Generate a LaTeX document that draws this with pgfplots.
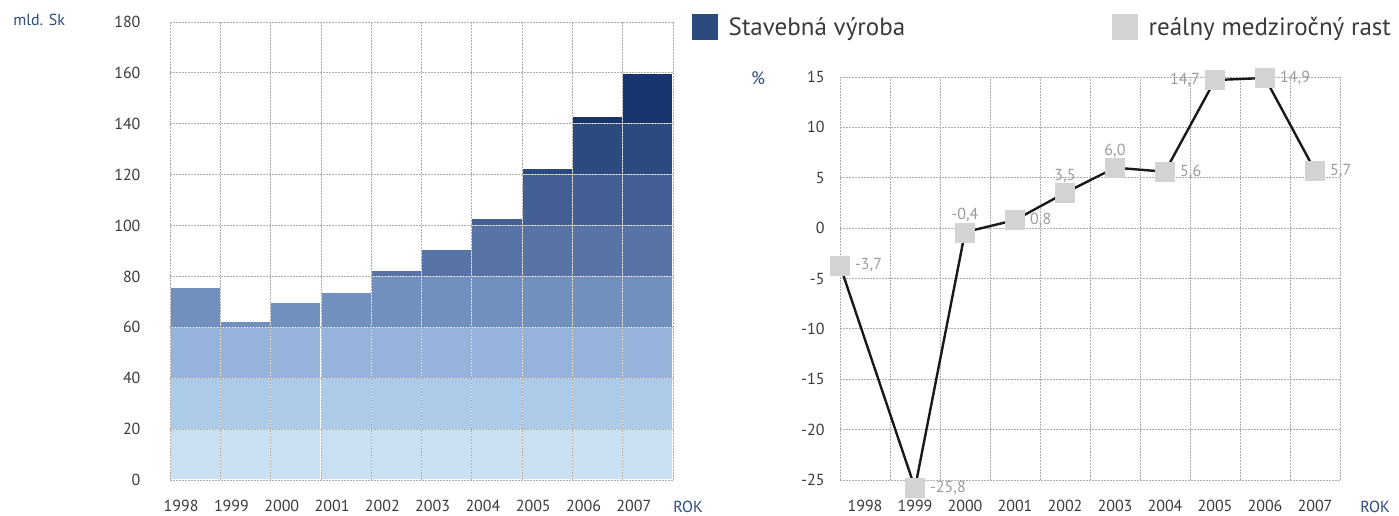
\documentclass[border=0pt]{standalone}
\usepackage{fontspec}
\setmainfont{PT Sans}
\usepackage{pgfplots}
\usepackage{pgfplotstable}
\pgfplotsset{compat=1.18}

\definecolor{bandA}{HTML}{C9DFF2}
\definecolor{bandB}{HTML}{ABCBE9}
\definecolor{bandC}{HTML}{95B3DB}
\definecolor{bandD}{HTML}{7290BE}
\definecolor{bandE}{HTML}{5873A5}
\definecolor{bandF}{HTML}{435F96}
\definecolor{bandG}{HTML}{2B4A80}
\definecolor{bandH}{HTML}{17346D}
\definecolor{navy}{HTML}{2B4A80}
\definecolor{tickgray}{HTML}{3A3A3A}
\definecolor{gridgray}{HTML}{AEAEAE}
\definecolor{markgray}{HTML}{D2D3D5}
\definecolor{labgray}{HTML}{9B9B9B}

% stavebna vyroba (mld. Sk), split into 20-unit bands
\pgfplotstableread{
x  b1 b2 b3 b4   b5   b6 b7  b8
0  20 20 20 15.8 0    0  0   0
1  20 20 20 2.5  0    0  0   0
2  20 20 20 9.7  0    0  0   0
3  20 20 20 13.6 0    0  0   0
4  20 20 20 20   2.5  0  0   0
5  20 20 20 20   10.8 0  0   0
6  20 20 20 20   20   2.9 0  0
7  20 20 20 20   20   20 2.6 0
8  20 20 20 20   20   20 20  2.8
9  20 20 20 20   20   20 20  19.9
}\bands

% realny medzirocny rast (%)
\pgfplotstableread{
x    y     lab
-0.5 -3.7  -3,7
1    -25.8 -25,8
2    -0.4  -0,4
3    0.8   0,8
4    3.5   3,5
5    6.0   6,0
6    5.6   5,6
7    14.7  14,7
8    14.9  14,9
9    5.7   5,7
}\growth

\tikzset{sidelabel/.style={font=\fontsize{16}{19}\selectfont, text=navy, inner sep=1pt}}

\pgfplotsset{
  chartbase/.style={
    scale only axis, anchor=south west, clip=false,
    xmin=-0.5, xmax=9.5,
    axis line style={draw=none},
    major tick length=0pt, minor tick length=0pt,
    xtick={0,...,9},
    xticklabels={1998,1999,2000,2001,2002,2003,2004,2005,2006,2007},
    minor xtick={-0.5,0.5,...,9.5},
    xminorgrids, ymajorgrids,
    grid style={dash pattern=on 1.6pt off 1.4pt, gridgray, line width=0.8pt},
    minor grid style={dash pattern=on 1.6pt off 1.4pt, gridgray, line width=0.8pt},
    tick label style={font=\fontsize{16}{19}\selectfont, text=tickgray},
    /pgf/number format/assume math mode=true,
    xticklabel style={inner sep=1pt, yshift=-19pt},
    legend style={draw=none, fill=none, inner sep=0pt, column sep=9pt,
      font=\fontsize{25}{29}\selectfont, text=tickgray},
  },
  vallabel/.style={draw=none, mark=none, forget plot,
    point meta=explicit symbolic, nodes near coords,
    every node near coord/.append style={anchor=#1, inner xsep=15pt, inner ysep=10pt,
      font=\fontsize{16}{19}\selectfont, text=labgray}},
}

\begin{document}
\begin{tikzpicture}
\useasboundingbox (0,0) rectangle (1399pt,515pt);

\begin{axis}[chartbase,
  at={(170pt,35pt)}, width=503pt, height=458pt,
  ymin=0, ymax=180, ytick={0,20,...,180},
  ybar stacked, bar width=1,
  axis on top,
  xticklabel style={xshift=-14pt},
  yticklabel style={xshift=-26pt},
  legend style={at={(1.038,0.989)}, anchor=west},
]
\addlegendimage{legend image code/.code={\fill[navy] (0pt,-12.5pt) rectangle (25pt,12.5pt);}}
\addlegendentry{Stavebná výroba}
\addplot[forget plot, fill=bandA, draw=white, line width=1.2pt] table[x=x, y=b1] {\bands};
\addplot[forget plot, fill=bandB, draw=white, line width=1.2pt] table[x=x, y=b2] {\bands};
\addplot[forget plot, fill=bandC, draw=white, line width=1.2pt] table[x=x, y=b3] {\bands};
\addplot[forget plot, fill=bandD, draw=white, line width=1.2pt] table[x=x, y=b4] {\bands};
\addplot[forget plot, fill=bandE, draw=white, line width=1.2pt] table[x=x, y=b5] {\bands};
\addplot[forget plot, fill=bandF, draw=white, line width=1.2pt] table[x=x, y=b6] {\bands};
\addplot[forget plot, fill=bandG, draw=white, line width=1.2pt] table[x=x, y=b7] {\bands};
\addplot[forget plot, fill=bandH, draw=white, line width=1.2pt] table[x=x, y=b8] {\bands};
\node[sidelabel] at (axis description cs:-0.260,1.004) {mld. Sk};
\node[sidelabel] at (axis description cs:1.030,-0.059) {ROK};
\end{axis}

\begin{axis}[chartbase,
  at={(840pt,35pt)}, width=500pt, height=403pt,
  ymin=-25, ymax=15, ytick={-25,-20,...,15},
  yticklabel style={xshift=-12pt},
  legend style={at={(0.544,1.124)}, anchor=west},
]
\addlegendimage{legend image code/.code={\fill[markgray] (0pt,-12.5pt) rectangle (25pt,12.5pt);}}
\addlegendentry{reálny medziročný rast}
\addplot[forget plot, color=black!90, line width=2.4pt,
  mark=square*, mark size=9.5pt,
  mark options={fill=markgray, draw=markgray, line width=0.2pt},
] table[x=x, y=y] {\growth};
% value labels: right of the point
\addplot[vallabel=west,
  skip coords between index={2}{3}, skip coords between index={4}{6},
  skip coords between index={7}{8}] table[x=x, y=y, meta=lab] {\growth};
% above the point
\addplot[vallabel=south,
  skip coords between index={0}{2}, skip coords between index={3}{4},
  skip coords between index={6}{10}] table[x=x, y=y, meta=lab] {\growth};
% left of the point
\addplot[vallabel=east,
  skip coords between index={0}{7}, skip coords between index={8}{10}] table[x=x, y=y, meta=lab] {\growth};
\node[sidelabel, font=\fontsize{18}{21}\selectfont] at (axis description cs:-0.164,0.998) {\%};
\node[sidelabel] at (axis description cs:1.070,-0.067) {ROK};
\end{axis}
\end{tikzpicture}
\end{document}
